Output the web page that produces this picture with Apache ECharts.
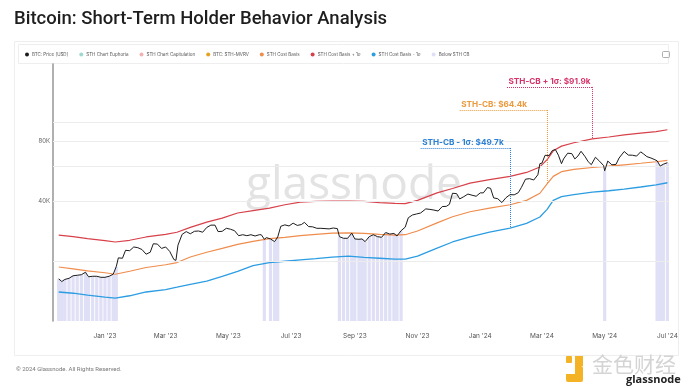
<!DOCTYPE html>
<html><head><meta charset="utf-8">
<script src="https://cdn.jsdelivr.net/npm/echarts@6/dist/echarts.min.js"></script>
<style>html,body{margin:0;padding:0;background:#fff}#c{width:700px;height:389px}</style>
</head><body><div id="c"></div>
<script>
// ---- data (values in thousands of USD) ----
const priceSeries = [
['2022-11-17',16.3],['2022-11-20',15.8],['2022-11-23',16.2],['2022-11-27',16.4],['2022-12-01',16.9],['2022-12-05',17.0],
['2022-12-09',17.1],['2022-12-13',17.6],['2022-12-16',16.7],['2022-12-20',16.8],['2022-12-24',16.8],['2022-12-28',16.6],
['2023-01-01',16.6],['2023-01-05',16.8],['2023-01-09',17.2],['2023-01-12',18.8],['2023-01-14',20.8],['2023-01-18',20.7],
['2023-01-21',22.7],['2023-01-25',22.6],['2023-01-29',23.6],['2023-02-02',23.4],['2023-02-06',22.9],['2023-02-10',21.7],
['2023-02-14',22.2],['2023-02-17',24.5],['2023-02-21',24.4],['2023-02-25',23.2],['2023-03-01',23.6],['2023-03-05',22.4],
['2023-03-09',20.4],['2023-03-11',20.2],['2023-03-13',24.1],['2023-03-17',27.3],['2023-03-21',28.2],['2023-03-25',27.5],
['2023-03-29',28.3],['2023-04-02',28.4],['2023-04-06',28.0],['2023-04-10',29.6],['2023-04-14',30.4],['2023-04-18',30.4],
['2023-04-21',28.2],['2023-04-25',28.3],['2023-04-29',29.3],['2023-05-03',29.0],['2023-05-07',28.5],['2023-05-11',26.9],
['2023-05-15',27.2],['2023-05-19',26.9],['2023-05-23',27.2],['2023-05-27',26.8],['2023-05-31',27.2],['2023-06-02',27.2],
['2023-06-05',25.8],['2023-06-07',26.3],['2023-06-11',25.9],['2023-06-15',25.1],['2023-06-18',26.5],['2023-06-21',30.0],
['2023-06-25',30.5],['2023-06-29',30.1],['2023-07-03',31.1],['2023-07-07',30.3],['2023-07-11',30.6],['2023-07-14',31.4],
['2023-07-18',29.9],['2023-07-22',29.8],['2023-07-26',29.3],['2023-07-30',29.3],['2023-08-03',29.2],['2023-08-07',29.1],
['2023-08-11',29.4],['2023-08-15',29.2],['2023-08-17',26.6],['2023-08-21',26.1],['2023-08-25',26.1],['2023-08-29',27.7],
['2023-09-01',25.9],['2023-09-05',25.8],['2023-09-08',25.9],['2023-09-11',25.1],['2023-09-15',26.6],['2023-09-19',27.2],
['2023-09-23',26.6],['2023-09-27',26.4],['2023-10-01',27.9],['2023-10-05',27.4],['2023-10-09',27.6],['2023-10-12',26.8],
['2023-10-16',28.5],['2023-10-20',29.7],['2023-10-23',33.1],['2023-10-27',34.2],['2023-10-31',34.6],['2023-11-04',35.0],
['2023-11-09',36.7],['2023-11-13',36.5],['2023-11-17',36.2],['2023-11-21',35.8],['2023-11-25',37.7],['2023-11-29',37.8],
['2023-12-02',38.7],['2023-12-05',44.0],['2023-12-09',43.8],['2023-12-12',41.2],['2023-12-16',42.3],['2023-12-20',43.6],
['2023-12-24',43.0],['2023-12-28',42.5],['2024-01-01',44.2],['2024-01-04',44.2],['2024-01-08',47.0],['2024-01-11',46.6],
['2024-01-14',41.7],['2024-01-18',41.3],['2024-01-22',39.5],['2024-01-26',41.8],['2024-01-30',43.3],['2024-02-03',43.2],
['2024-02-07',44.3],['2024-02-10',47.1],['2024-02-14',51.8],['2024-02-18',52.1],['2024-02-22',51.3],['2024-02-26',54.5],
['2024-02-28',62.0],['2024-03-01',62.4],['2024-03-04',68.3],['2024-03-08',68.2],['2024-03-11',72.1],['2024-03-14',73.1],
['2024-03-17',68.4],['2024-03-20',62.0],['2024-03-22',65.5],['2024-03-26',70.0],['2024-03-30',69.7],['2024-04-02',65.5],
['2024-04-05',67.8],['2024-04-08',71.6],['2024-04-12',67.2],['2024-04-15',63.4],['2024-04-18',61.3],['2024-04-22',66.8],
['2024-04-26',63.8],['2024-04-30',60.6],['2024-05-01',57.0],['2024-05-04',63.9],['2024-05-08',61.2],['2024-05-12',61.5],
['2024-05-15',66.2],['2024-05-20',71.4],['2024-05-24',68.5],['2024-05-28',68.4],['2024-06-01',67.7],['2024-06-05',71.1],
['2024-06-08',69.3],['2024-06-11',67.3],['2024-06-15',66.2],['2024-06-18',65.2],['2024-06-21',64.1],['2024-06-24',60.3],
['2024-06-27',61.6],['2024-07-01',62.7]
];
const bandDates = ['2022-11-17','2022-12-01','2022-12-15','2023-01-01','2023-01-11','2023-01-25','2023-02-10','2023-03-01',
'2023-03-12','2023-03-25','2023-04-10','2023-04-25','2023-05-10','2023-05-25','2023-06-10','2023-06-25','2023-07-10',
'2023-07-25','2023-08-10','2023-08-26','2023-09-10','2023-09-25','2023-10-10','2023-10-20','2023-11-01','2023-11-20',
'2023-12-05','2023-12-22','2024-01-10','2024-01-30','2024-02-15','2024-02-28','2024-03-06','2024-03-12','2024-03-20',
'2024-04-01','2024-04-19','2024-05-05','2024-05-20','2024-06-05','2024-06-20','2024-07-01'];
const sthPlus1SigmaK = [27.1,26.6,26.0,25.4,25.0,25.5,26.5,27.3,28.0,29.6,31.5,33.0,35.0,36.0,37.0,38.5,39.7,40.0,40.2,40.2,
40.0,39.5,39.1,39.0,40.5,44.2,46.5,49.5,51.5,53.5,56.0,59.7,65.0,72.0,76.0,79.0,82.6,84.5,86.5,88.3,90.0,91.9];
const sthCostBasisK = [18.7,18.3,17.9,17.5,17.2,17.8,18.6,19.2,19.7,21.0,22.2,23.2,24.3,25.2,26.0,26.4,26.9,27.3,27.7,27.8,
27.6,27.3,27.1,27.2,28.4,31.2,33.5,35.5,37.0,38.5,40.5,44.0,49.0,53.5,56.5,58.0,59.3,60.2,61.2,62.3,63.4,64.4];
const sthMinus1SigmaK = [14.0,13.8,13.5,13.2,13.05,13.4,14.0,14.4,14.8,15.3,15.9,16.8,17.8,19.0,19.7,20.0,20.3,20.6,21.0,21.2,
20.9,20.7,20.5,20.5,21.2,23.3,25.0,26.5,28.0,29.4,31.0,33.4,36.5,40.5,42.3,43.3,44.6,45.3,46.2,47.3,48.5,49.7];
// periods where price < STH cost basis
const belowRanges = [['2022-11-17','2023-01-12'],['2023-06-05','2023-06-05'],['2023-06-10','2023-06-19'],
['2023-08-17','2023-10-16'],['2024-05-01','2024-05-01'],['2024-06-21','2024-07-01']];
const yGridK = [20,40,60,80,100];
const yLabelK = [10,40,80];
const yLabelText = ['10K','40K','80K'];
const monthNames = ['Jan','Feb','Mar','Apr','May','Jun','Jul','Aug','Sep','Oct','Nov','Dec'];
const legendNames = ['BTC: Price [USD]','STH Chart Euphoria','STH Chart Capitulation','BTC: STH-MVRV','STH Cost Basis',
'STH Cost Basis + 1σ','STH Cost Basis - 1σ','Below STH CB'];
// annotations: text, label-row start date, label-row level (K), anchor date (a band date)
const annoText = ['STH-CB + 1σ: $91.9k','STH-CB: $64.4k','STH-CB - 1σ: $49.7k'];
const annoStart = ['2024-01-27','2023-12-12','2023-11-04'];
const annoLevelK = [151,115.6,74.4];
const annoAnchor = ['2024-04-19','2024-03-06','2024-01-30'];

// ---- build ----
const C = {price:'#1c1c1c', red:'#d8404a', orange:'#f08c4c', blue:'#2c9de2', below:'rgba(196,196,238,0.55)',
  euph:'#9fd8cf', capit:'#f2b2b2', mvrv:'#e6a21f'};
const price = priceSeries.map(p => [p[0], p[1]*1000]);
const band = arr => bandDates.map((d,i) => [d, arr[i]*1000]);
const inRange = d => belowRanges.some(r => d >= r[0] && d <= r[1]);
const below = priceSeries.filter(p => inRange(p[0])).map(p => [p[0], p[1]*1000]);

function anno(i, color, arr){
  const a = bandDates.indexOf(annoAnchor[i]);
  const lvl = annoLevelK[i]*1000;
  return {
    silent:true, symbol:['none','none'], animation:false,
    lineStyle:{color:color, type:'dotted', width:1},
    data:[
      [{coord:[annoStart[i], lvl], label:{show:true, position:'insideStartTop', distance:1.5, formatter:annoText[i],
        color:color, fontSize:8.2, fontWeight:'bold', fontFamily:'Inter'}}, {coord:[annoAnchor[i], lvl]}],
      [{coord:[annoAnchor[i], lvl], label:{show:false}}, {coord:[annoAnchor[i], arr[a]*1000]}]
    ]
  };
}

const gridLines = yGridK.map(v => ({yAxis:v*1000, lineStyle:{color:'#ececec', width:1, type:'solid'},
  label:{show: yLabelK.includes(v), formatter: yLabelText[yLabelK.indexOf(v)] || ''}}));
gridLines.push({yAxis:10000, lineStyle:{opacity:0}, label:{show:true, formatter:yLabelText[0]}});

const chart = echarts.init(document.getElementById('c'), null, {renderer:'canvas'});
chart.setOption({
  animation:false,
  backgroundColor:'#fff',
  textStyle:{fontFamily:'Inter'},
  title:{text:'Bitcoin: Short-Term Holder Behavior Analysis', left:9, top:5,
    textStyle:{fontSize:18.5, fontWeight:500, color:'#1e1e1e', fontFamily:'Roboto'}},
  legend:{data:legendNames, left:20, top:47, icon:'circle', itemWidth:4, itemHeight:4, itemGap:11,
    textStyle:{fontSize:4.5, color:'#555', padding:[0,0,0,-2]}},
  grid:{left:53, right:31, top:64, bottom:68},
  xAxis:{type:'time', min:'2022-11-13', max:'2024-07-01', splitNumber:8,
    axisLine:{show:false}, axisTick:{show:false}, splitLine:{show:false},
    axisLabel:{fontSize:6.5, color:'#555', margin:12, showMinLabel:false,
      formatter:function(v){const d=new Date(v); return monthNames[d.getMonth()]+" '"+String(d.getFullYear()).slice(2);}}},
  yAxis:{type:'log', logBase:10, min:10000, max:197000,
    axisLine:{show:true, lineStyle:{color:'#9c9c9c', width:1.6}}, axisTick:{show:false},
    axisLabel:{show:false}, splitLine:{show:false}},
  graphic:[
    {type:'rect', shape:{x:14.5,y:41.5,width:664,height:314}, style:{fill:'none', stroke:'#eeeeee', lineWidth:1}, z:-10},
    {type:'rect', shape:{x:18.5,y:44.5,width:650,height:19}, style:{fill:'none', stroke:'#eeeeee', lineWidth:1}, z:-10},
    {type:'rect', shape:{x:662.5,y:51.5,width:7,height:6,r:1}, style:{fill:'none', stroke:'#999', lineWidth:0.8}},
    {type:'text', left:246, top:163, z:-5, style:{text:'glassnode', fontSize:46, fontWeight:500, fill:'#e3e3e3', fontFamily:'Open Sans'}},
    {type:'text', left:16, top:366, style:{text:'© 2024 Glassnode. All Rights Reserved.', fontSize:6, fill:'#777', fontFamily:'Roboto'}},
    {type:'rect', shape:{x:566,y:356,width:6,height:7,r:1}, style:{fill:'#f4b325'}},
    {type:'rect', shape:{x:566,y:366,width:17,height:16,r:2}, style:{fill:'#f4b325'}},
    {type:'rect', shape:{x:575,y:356,width:8,height:10}, style:{fill:'#f4b325'}},
    {type:'rect', shape:{x:566,y:366,width:9,height:8}, style:{fill:'#fff'}},
    {type:'text', left:592, top:354, style:{text:'金色财经', fontSize:21, fill:'#d4d4d4', fontFamily:'Noto Sans CJK SC'}},
    {type:'text', left:626, top:374, style:{text:'glassnode', fontSize:11, fontWeight:'bold', fill:'#222', fontFamily:'Open Sans'}}
  ],
  series:[
    {name:'Below STH CB', type:'bar', data:below, barWidth:3.2, clip:true, z:1, itemStyle:{color:C.below}, silent:true},
    {name:'BTC: Price [USD]', type:'line', data:price, showSymbol:false, z:6, color:C.price,
      lineStyle:{color:C.price, width:1},
      markLine:{silent:true, symbol:['none','none'], animation:false,
        label:{position:'start', fontSize:6, color:'#666', distance:3}, data:gridLines}},
    {name:'STH Chart Euphoria', type:'line', data:[], color:C.euph},
    {name:'STH Chart Capitulation', type:'line', data:[], color:C.capit},
    {name:'BTC: STH-MVRV', type:'line', data:[], color:C.mvrv},
    {name:'STH Cost Basis', type:'line', data:band(sthCostBasisK), showSymbol:false, z:4, color:C.orange,
      lineStyle:{color:C.orange, width:1.2}, markLine:anno(1, '#ec9a3e', sthCostBasisK)},
    {name:'STH Cost Basis + 1σ', type:'line', data:band(sthPlus1SigmaK), showSymbol:false, z:4, color:C.red,
      lineStyle:{color:C.red, width:1.2}, markLine:anno(0, '#d6336a', sthPlus1SigmaK)},
    {name:'STH Cost Basis - 1σ', type:'line', data:band(sthMinus1SigmaK), showSymbol:false, z:4, color:C.blue,
      lineStyle:{color:C.blue, width:1.3}, markLine:anno(2, '#2a7fd4', sthMinus1SigmaK)}
  ]
});
</script></body></html>
